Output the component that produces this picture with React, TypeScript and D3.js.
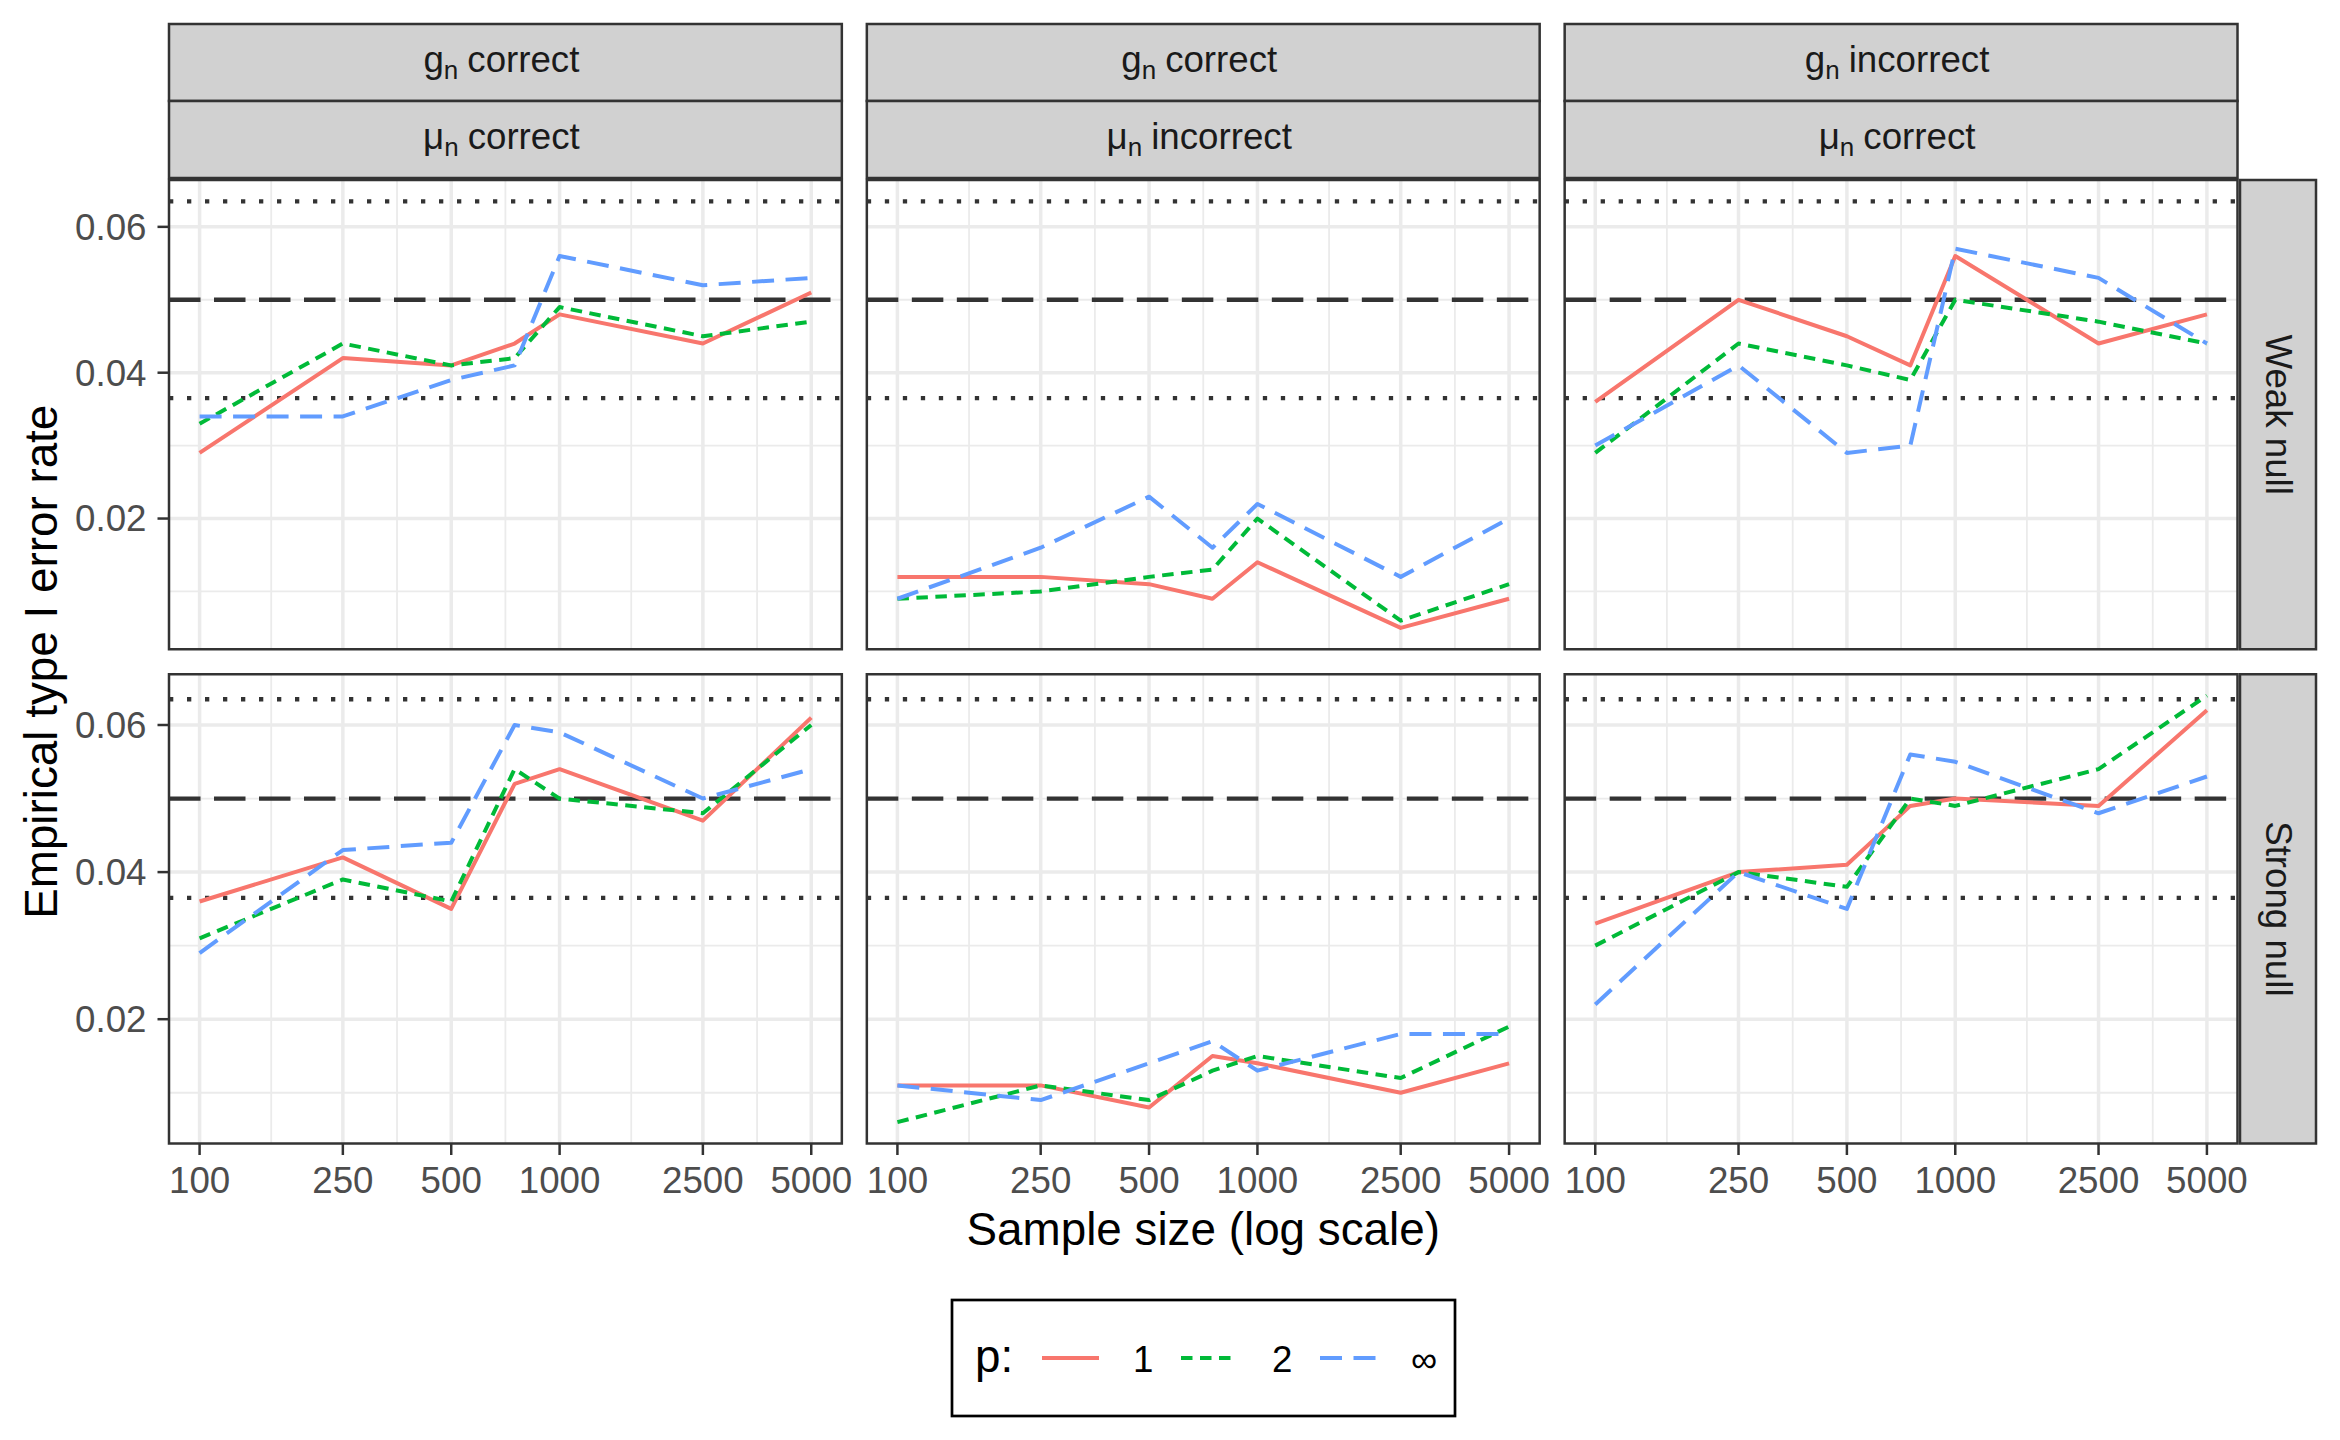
import * as d3 from "d3";

// sample sizes and axis breaks
const sampleSizes = [100, 250, 500, 750, 1000, 2500, 5000];
const xBreaks = [100, 250, 500, 1000, 2500, 5000];
const yBreaks = [0.02, 0.04, 0.06];
const yMinor = [0.01, 0.03, 0.05];

// facet labels
const gLabels = ["correct", "correct", "incorrect"];
const muLabels = ["correct", "incorrect", "correct"];
const nullLabels = ["Weak null", "Strong null"];

// reference lines (nominal level and its 95% band, n = 1000 reps)
const nominal = 0.05;
const bandLow = 0.0365;
const bandHigh = 0.0635;

// legend
const pLabels = ["1", "2", "\u221E"];
const pColors = ["#F8766D", "#00BA38", "#619CFF"];
const pDash = ["none", "11.5 7.5", "22 11.5"];

// weak null, columns A/B/C = (g ok, mu ok) / (g ok, mu wrong) / (g wrong, mu ok)
const weakA1 = [0.029, 0.042, 0.041, 0.044, 0.048, 0.044, 0.051];
const weakA2 = [0.033, 0.044, 0.041, 0.042, 0.049, 0.045, 0.047];
const weakAInf = [0.034, 0.034, 0.039, 0.041, 0.056, 0.052, 0.053];
const weakB1 = [0.012, 0.012, 0.011, 0.009, 0.014, 0.005, 0.009];
const weakB2 = [0.009, 0.01, 0.012, 0.013, 0.02, 0.006, 0.011];
const weakBInf = [0.009, 0.016, 0.023, 0.016, 0.022, 0.012, 0.02];
const weakC1 = [0.036, 0.05, 0.045, 0.041, 0.056, 0.044, 0.048];
const weakC2 = [0.029, 0.044, 0.041, 0.039, 0.05, 0.047, 0.044];
const weakCInf = [0.03, 0.041, 0.029, 0.03, 0.057, 0.053, 0.044];

// strong null
const strongA1 = [0.036, 0.042, 0.035, 0.052, 0.054, 0.047, 0.061];
const strongA2 = [0.031, 0.039, 0.036, 0.054, 0.05, 0.048, 0.06];
const strongAInf = [0.029, 0.043, 0.044, 0.06, 0.059, 0.05, 0.054];
const strongB1 = [0.011, 0.011, 0.008, 0.015, 0.014, 0.01, 0.014];
const strongB2 = [0.006, 0.011, 0.009, 0.013, 0.015, 0.012, 0.019];
const strongBInf = [0.011, 0.009, 0.014, 0.017, 0.013, 0.018, 0.018];
const strongC1 = [0.033, 0.04, 0.041, 0.049, 0.05, 0.049, 0.062];
const strongC2 = [0.03, 0.04, 0.038, 0.05, 0.049, 0.054, 0.064];
const strongCInf = [0.022, 0.04, 0.035, 0.056, 0.055, 0.048, 0.053];

const panels = [
  [
    [weakA1, weakA2, weakAInf],
    [weakB1, weakB2, weakBInf],
    [weakC1, weakC2, weakCInf],
  ],
  [
    [strongA1, strongA2, strongAInf],
    [strongB1, strongB2, strongBInf],
    [strongC1, strongC2, strongCInf],
  ],
];

const W = 2340;
const H = 1440;
const FONT = "'Liberation Sans', Arial, Helvetica, sans-serif";
const left = 169;
const right = 2237.5;
const top = 180;
const bottom = 1143.5;
const gap = 25;
const pw = (right - left - 2 * gap) / 3;
const ph = (bottom - top - gap) / 2;
const stripH = 77;
const tick = 11.5;

export default function App() {
  // scales with ggplot-like 5% expansion
  const lx = d3.extent(sampleSizes).map(Math.log10);
  const lspan = lx[1] - lx[0];
  const x = d3
    .scaleLog()
    .domain([10 ** (lx[0] - 0.05 * lspan), 10 ** (lx[1] + 0.05 * lspan)])
    .range([0, pw]);

  // free y scale per row (facet rows)
  const yRow = panels.map((row) => {
    const [y0, y1] = d3.extent(row.flat(2).concat([bandLow, bandHigh]));
    const ys = y1 - y0;
    return d3
      .scaleLinear()
      .domain([y0 - 0.05 * ys, y1 + 0.05 * ys])
      .range([ph, 0]);
  });

  const xMinor = d3.pairs(xBreaks).map(([a, b]) => Math.sqrt(a * b));

  const stripLabel = (sym, txt) => (
    <>
      <tspan>{sym}</tspan>
      <tspan dy={7} fontSize={26}>n</tspan>
      <tspan dy={-7} dx={9}>{txt}</tspan>
    </>
  );

  return (
    <div style={{ position: "fixed", left: 0, top: 0 }}>
      <svg width={W} height={H} viewBox={`0 0 ${W} ${H}`} style={{ display: "block", background: "#fff" }} fontFamily={FONT}>
        {/* top strips */}
        {gLabels.map((g, c) => {
          const px = left + c * (pw + gap);
          const s1 = top - 2 - 2 * stripH;
          const s2 = top - 2 - stripH;
          return (
            <g key={"strip" + c}>
              <rect x={px} y={s1} width={pw} height={stripH} fill="#D1D1D1" stroke="#333333" strokeWidth={2.5} />
              <rect x={px} y={s2} width={pw} height={stripH} fill="#D1D1D1" stroke="#333333" strokeWidth={2.5} />
              <text x={px + pw / 2 - 4} y={s1 + stripH / 2 + 9} textAnchor="middle" fontSize={36.7} fill="#1A1A1A">
                {stripLabel("g", g)}
              </text>
              <text x={px + pw / 2 - 4} y={s2 + stripH / 2 + 9} textAnchor="middle" fontSize={36.7} fill="#1A1A1A">
                {stripLabel("\u03BC", muLabels[c])}
              </text>
            </g>
          );
        })}

        {/* right strips */}
        {nullLabels.map((lab, r) => {
          const py = top + r * (ph + gap);
          const sx = right + 2.5;
          return (
            <g key={"rs" + r}>
              <rect x={sx} y={py} width={stripH - 1} height={ph} fill="#D1D1D1" stroke="#333333" strokeWidth={2.5} />
              <text
                transform={`translate(${sx + stripH / 2},${py + ph / 2}) rotate(90)`}
                textAnchor="middle"
                dy="0.35em"
                fontSize={36.7}
                fill="#1A1A1A"
              >
                {lab}
              </text>
            </g>
          );
        })}

        {panels.map((row, r) =>
          row.map((series, c) => {
            const px = left + c * (pw + gap);
            const py = top + r * (ph + gap);
            const y = yRow[r];
            const line = d3
              .line()
              .x((d, i) => x(sampleSizes[i]))
              .y((d) => y(d));
            return (
              <g key={`p${r}${c}`} transform={`translate(${px},${py})`}>
                <rect width={pw} height={ph} fill="#fff" />
                {yMinor.map((v) => (
                  <line key={"ym" + v} x1={0} x2={pw} y1={y(v)} y2={y(v)} stroke="#EBEBEB" strokeWidth={1.8} />
                ))}
                {xMinor.map((v) => (
                  <line key={"xm" + v} x1={x(v)} x2={x(v)} y1={0} y2={ph} stroke="#EBEBEB" strokeWidth={1.8} />
                ))}
                {yBreaks.map((v) => (
                  <line key={"yM" + v} x1={0} x2={pw} y1={y(v)} y2={y(v)} stroke="#EBEBEB" strokeWidth={3.5} />
                ))}
                {xBreaks.map((v) => (
                  <line key={"xM" + v} x1={x(v)} x2={x(v)} y1={0} y2={ph} stroke="#EBEBEB" strokeWidth={3.5} />
                ))}
                {[bandLow, bandHigh].map((v) => (
                  <line key={"b" + v} x1={0} x2={pw} y1={y(v)} y2={y(v)} stroke="#333333" strokeWidth={4.3} strokeDasharray="4.3 13.7" />
                ))}
                <line x1={0} x2={pw} y1={y(nominal)} y2={y(nominal)} stroke="#333333" strokeWidth={4.3} strokeDasharray="31.5 13.5" />
                {series.map((vals, k) => (
                  <path
                    key={"s" + k}
                    d={line(vals)}
                    fill="none"
                    stroke={pColors[k]}
                    strokeWidth={4}
                    strokeDasharray={pDash[k]}
                    strokeLinejoin="round"
                  />
                ))}
                <rect width={pw} height={ph} fill="none" stroke="#333333" strokeWidth={2.5} />
                {c === 0 &&
                  yBreaks.map((v) => (
                    <g key={"yt" + v}>
                      <line x1={-tick} x2={0} y1={y(v)} y2={y(v)} stroke="#333333" strokeWidth={2.5} />
                      <text x={-tick - 11} y={y(v)} dy="0.35em" textAnchor="end" fontSize={36.7} fill="#4D4D4D">
                        {d3.format(".2f")(v)}
                      </text>
                    </g>
                  ))}
                {r === 1 &&
                  xBreaks.map((v) => (
                    <g key={"xt" + v}>
                      <line x1={x(v)} x2={x(v)} y1={ph} y2={ph + tick} stroke="#333333" strokeWidth={2.5} />
                      <text x={x(v)} y={ph + 49} textAnchor="middle" fontSize={36.7} fill="#4D4D4D">
                        {v}
                      </text>
                    </g>
                  ))}
              </g>
            );
          })
        )}

        {/* axis titles */}
        <text x={(left + right) / 2} y={1245} textAnchor="middle" fontSize={45.8} fill="#000">
          Sample size (log scale)
        </text>
        <text transform={`translate(57,${(top + bottom) / 2}) rotate(-90)`} textAnchor="middle" fontSize={45.8} fill="#000">
          Empirical type I error rate
        </text>

        {/* legend */}
        <g>
          <rect x={952} y={1300} width={503} height={116} fill="#fff" stroke="#000" strokeWidth={2.7} />
          <text x={975} y={1372} fontSize={45.8} fill="#000">p:</text>
          {pLabels.map((lab, i) => {
            const kx = 1042 + i * 139;
            return (
              <g key={"lg" + i}>
                <line x1={kx} x2={kx + 57} y1={1358} y2={1358} stroke={pColors[i]} strokeWidth={4} strokeDasharray={pDash[i]} />
                <text x={kx + 91} y={1372} fontSize={36.7} fill="#000">
                  {lab}
                </text>
              </g>
            );
          })}
        </g>
      </svg>
    </div>
  );
}
